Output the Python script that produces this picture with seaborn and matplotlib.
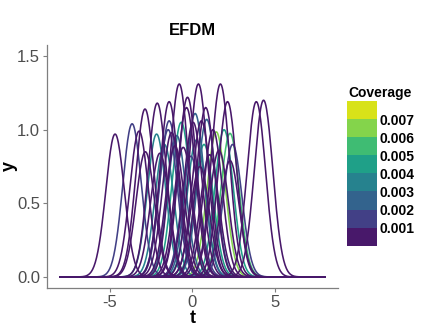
import numpy as np
import pandas as pd
import matplotlib
matplotlib.use("Agg")
import matplotlib.pyplot as plt
import matplotlib.colors as mcolors
import matplotlib.ticker as mticker
import seaborn as sns

# ---- data ----
centers = [-4.68, -3.65, -3.23, -2.87, -2.85, -2.13, -2.17, -1.41, -1.47, -0.80,
           -0.30, -0.68, -0.36, 0.36, 0.16, 0.80, 0.86, 1.69, 2.12, 1.44,
           1.91, 2.27, 2.43, 2.27, 3.86, 4.30, -1.41, -1.06, 0.04, 0.54,
           1.24, -0.56, 0.24, 1.04, -1.97, -1.26, -0.10, 0.70, -0.95, 1.60,
           -1.70, 0.45]
heights = [0.97, 1.04, 0.99, 1.14, 0.85, 1.18, 0.97, 1.19, 1.00, 1.31,
           1.22, 1.05, 1.15, 1.31, 1.11, 1.15, 1.07, 1.31, 1.19, 0.985,
           1.00, 0.975, 0.90, 0.79, 1.19, 1.20, 1.06, 0.89, 1.05, 1.06,
           1.00, 0.88, 0.93, 0.83, 0.84, 0.98, 0.82, 0.90, 0.96, 0.86,
           0.90, 0.75]
coverage = [0.0005, 0.0015, 0.0005, 0.0005, 0.0005, 0.0005, 0.0035, 0.0005, 0.0015, 0.0005,
            0.0005, 0.0045, 0.0005, 0.0005, 0.0025, 0.0005, 0.0025, 0.0005, 0.0005, 0.0065,
            0.0045, 0.0055, 0.0015, 0.0005, 0.0005, 0.0005, 0.0015, 0.0005, 0.0005, 0.0005,
            0.0005, 0.0005, 0.0035, 0.0005, 0.0005, 0.0005, 0.0015, 0.0045, 0.0025, 0.0005,
            0.0035, 0.0005]
width = 0.56
t_grid = np.linspace(-8, 8, 401)
breaks = [0.001, 0.002, 0.003, 0.004, 0.005, 0.006, 0.007]
break_labels = ["0.001", "0.002", "0.003", "0.004", "0.005", "0.006", "0.007"]

# ---- build long table (coloured curves first, dark ones on top) ----
rows = []
for i, (c, h, cv) in enumerate(zip(centers, heights, coverage)):
    y = h * np.exp(-(t_grid - c) ** 2 / (2 * width ** 2))
    b = int(np.searchsorted(breaks, cv))
    rows.append(pd.DataFrame({"t": t_grid, "y": y, "id": i, "bin": b}))
df = pd.concat(rows, ignore_index=True)
order = sorted(range(len(centers)), key=lambda i: -int(np.searchsorted(breaks, coverage[i])))
df["ord"] = df["id"].map({i: k for k, i in enumerate(order)})
df = df.sort_values(["ord", "t"], kind="stable")

nb = len(breaks) + 1
cmap = plt.get_cmap("viridis")
bin_colors = [cmap((k + 0.5) / nb) for k in range(nb)]
palette = {k: bin_colors[k] for k in range(nb)}

sns.set_style("white")
plt.rcParams["font.family"] = ["Liberation Sans", "DejaVu Sans"]
plt.rcParams["text.color"] = "black"

fig = plt.figure(figsize=(4.23, 3.28), dpi=100)
ax = fig.add_axes([0.111, 0.122, 0.688, 0.741])

for k in sorted(df["ord"].unique()):
    sub = df[df["ord"] == k]
    sns.lineplot(data=sub, x="t", y="y", hue="bin", palette=palette,
                 estimator=None, legend=False, linewidth=1.15, ax=ax, sort=False)

ax.set_xlim(-8.8, 8.8)
ax.set_ylim(-0.075, 1.575)
ax.set_xticks([-5, 0, 5])
ax.set_xticklabels(["-5", "0", "5"])
ax.set_yticks([0, 0.5, 1.0, 1.5])
ax.set_yticklabels(["0.0", "0.5", "1.0", "1.5"])
for s in ["top", "right"]:
    ax.spines[s].set_visible(False)
for s in ["left", "bottom"]:
    ax.spines[s].set_color("#7f7f7f")
    ax.spines[s].set_linewidth(0.9)
ax.tick_params(axis="both", colors="#7f7f7f", length=3, width=0.8,
               labelsize=12, labelcolor="#4d4d4d", pad=2, direction="out",
               bottom=True, left=True)
ax.set_xlabel("t", fontsize=13, fontweight="bold", color="black")
ax.set_ylabel("y", fontsize=13, fontweight="bold", color="black")
ax.xaxis.set_label_coords(0.5, -0.09)
ax.yaxis.set_label_coords(-0.10, 0.5)
ax.set_title("EFDM", fontsize=12, fontweight="bold", pad=7, color="black")
ax.grid(False)

# ---- binned colour legend ----
cax = fig.add_axes([0.821, 0.251, 0.0709, 0.441])
lcmap = mcolors.ListedColormap(bin_colors)
norm = mcolors.BoundaryNorm(np.arange(nb + 1), nb)
sm = matplotlib.cm.ScalarMappable(norm=norm, cmap=lcmap)
cb = fig.colorbar(sm, cax=cax, ticks=np.arange(1, nb))
cb.outline.set_visible(False)
cb.ax.yaxis.set_minor_locator(mticker.NullLocator())
cb.ax.set_yticklabels(break_labels)
cb.ax.tick_params(which="both", length=0, pad=1.5, labelsize=10,
                  labelcolor="black")
for lbl in cb.ax.get_yticklabels():
    lbl.set_fontweight("bold")
fig.text(0.824, 0.704, "Coverage", fontsize=10, fontweight="bold",
         ha="left", va="baseline", color="black")

fig.savefig("out.png", dpi=100)
